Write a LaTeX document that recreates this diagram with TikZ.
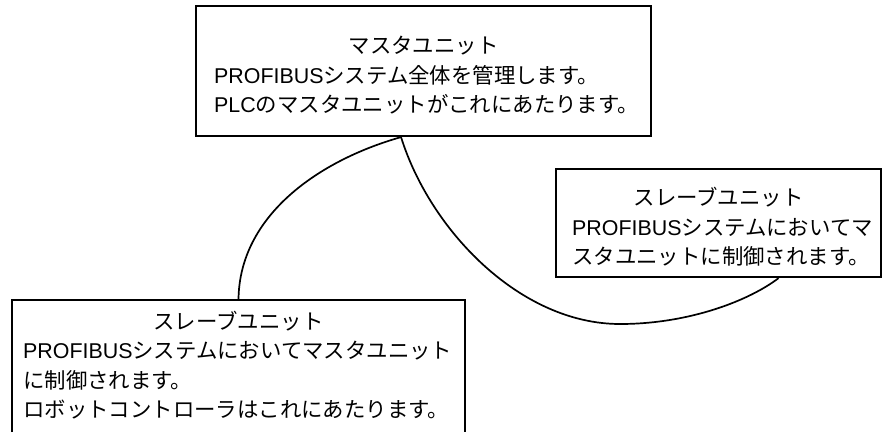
\documentclass[tikz,border=0pt]{standalone}
\usepackage{fontspec}
\setmainfont{Liberation Sans}
\newfontfamily\jp{Noto Sans CJK JP}
\begin{document}
\begin{tikzpicture}[x=1pt,y=-1pt,
  unitbox/.style={draw=black, line width=2.1pt, inner sep=0pt, anchor=north west},
  openbox/.style={inner sep=0pt, outer sep=0pt, anchor=north west},
  border/.style={draw=black, line width=2.1pt, line join=miter},
  txt/.style={inner sep=0pt, anchor=base west, font=\fontsize{21.4pt}{29.5pt}\selectfont},
  ttl/.style={inner sep=0pt, anchor=base, font=\fontsize{21.4pt}{29.5pt}\selectfont},
  conn/.style={draw=black, line width=1.7pt}]
\useasboundingbox (0,0) rectangle (883,432);
\fill[white] (0,0) rectangle (883,432);
% boxes
\node[unitbox, minimum width=455pt, minimum height=130pt] (master) at (195,5) {};
\node[unitbox, minimum width=325pt, minimum height=108pt] (slaveR) at (555,168) {};
\node[openbox, minimum width=453pt, minimum height=132pt] (slaveL) at (12,300) {};
\draw[border] (slaveL.south west) -- (slaveL.north west) -- (slaveL.north east) -- (slaveL.south east);
% connectors
\coordinate (low) at (620,324);
\draw[conn] ([xshift=-22.5pt]master.south) .. controls (320,160) and (239,215) .. (slaveL.north);
\draw[conn] ([xshift=-22.5pt]master.south) .. controls (430,230) and (520,324) .. (low)
  .. controls (690,324) and (750,300) .. ([xshift=60pt]slaveR.south);
% master text
\node[ttl] (mt) at (master.center |- 0,53) {\jp マスタユニット};
\node[txt] (m1) at (214,83) {PROFIBUS{\jp システム全体を管理します。}};
\node[txt] (m2) at (214,112.5) {PLC{\jp のマスタユニットがこれにあたります。}};
% right slave text
\node[ttl] (rt) at (slaveR.center |- 0,205) {\jp スレーブユニット};
\node[txt] (r1) at (572,235) {PROFIBUS{\jp システムにおいてマ}};
\node[txt] (r2) at (572,264) {\jp スタユニットに制御されます。};
% left slave text
\node[ttl] (lt) at (slaveL.north |- 0,329) {\jp スレーブユニット};
\node[txt] (l1) at (23,358) {PROFIBUS{\jp システムにおいてマスタユニット}};
\node[txt] (l2) at (23,388) {\jp に制御されます。};
\node[txt] (l3) at (23,417) {\jp ロボットコントローラはこれにあたります。};
\end{tikzpicture}
\end{document}
